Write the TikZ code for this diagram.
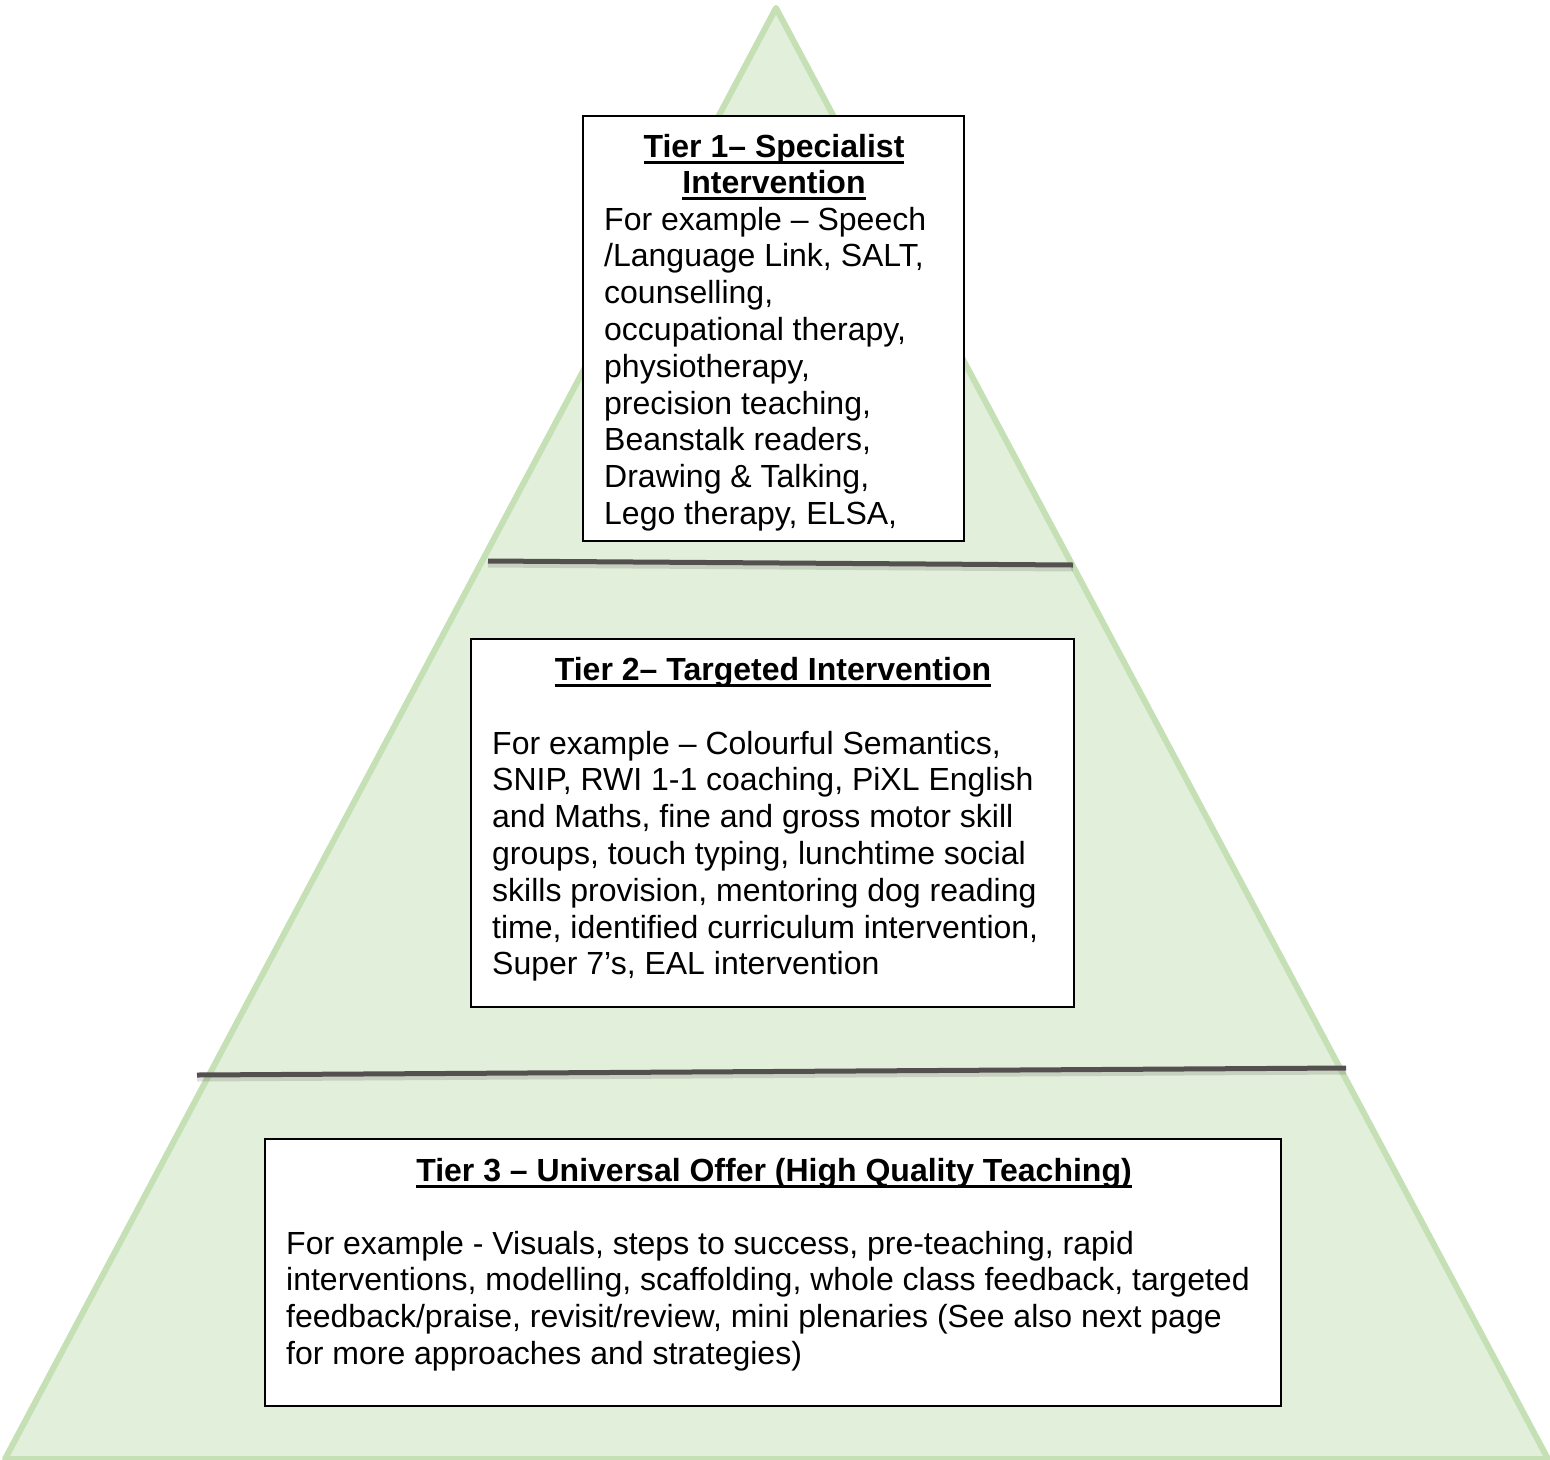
\documentclass[tikz,border=0pt]{standalone}
\usepackage{fontspec}
\setmainfont{Liberation Sans}
\definecolor{pyrfill}{HTML}{E2EFDA}
\definecolor{pyredge}{HTML}{C5E0B4}
\definecolor{divline}{HTML}{545050}
\newcommand\tul[1]{\setbox0\hbox{#1}\rlap{\rule[-6.8pt]{\wd0}{3pt}}\box0}
\tikzset{
  box/.style={draw=black, line width=1.2pt, fill=white, inner sep=0pt, outer sep=0pt},
  body/.style={anchor=base west, inner sep=0pt, font=\fontsize{32}{36.8}\selectfont},
  title/.style={anchor=base, inner sep=0pt, font=\fontsize{32}{36.8}\selectfont\bfseries},
  divider/.style={draw=divline, line width=5pt},
  dshadow/.style={draw=black, opacity=0.12, line width=7pt},
}
\begin{document}
\begin{tikzpicture}[x=1pt,y=-1pt]
\useasboundingbox (0,0) rectangle (1550,1459);
% pyramid
\coordinate (apex) at (776,8);
\coordinate (bl) at (5,1459);
\coordinate (br) at (1548,1459);
\draw[fill=pyrfill, draw=pyredge, line width=6pt, line join=round] (apex) -- (br) -- (bl) -- cycle;
% dividers
\coordinate (l1a) at (488,561);
\coordinate (l1b) at (1073,565);
\coordinate (l2a) at (197,1075);
\coordinate (l2b) at (1346,1068);
\draw[dshadow] ([yshift=-3pt]l1a) -- ([yshift=-3pt]l1b);
\draw[dshadow] ([yshift=-3pt]l2a) -- ([yshift=-3pt]l2b);
\draw[divider] (l1a) -- (l1b);
\draw[divider] (l2a) -- (l2b);
% boxes
\node[box, minimum width=381pt, minimum height=425pt] (b1) at (773.5,328.5) {};
\node[box, minimum width=603pt, minimum height=368pt] (b2) at (772.5,823) {};
\node[box, minimum width=1016pt, minimum height=267pt] (b3) at (773,1272.5) {};
% tier 1
\node[title] (t1a) at (774,157) {\tul{Tier 1– Specialist}};
\node[title] (t1b) at (774,193.5) {\tul{Intervention}};
\node[body] (x1) at (604,230) {\begin{tabular}[t]{@{}l@{}}
For example – Speech\\
/Language Link, SALT,\\
counselling,\\
occupational therapy,\\
physiotherapy,\\
precision teaching,\\
Beanstalk readers,\\
Drawing \& Talking,\\
Lego therapy, ELSA,
\end{tabular}};
% tier 2
\node[title] (t2) at (773,680) {\tul{Tier 2– Targeted Intervention}};
\node[body] (x2) at (492,754) {\begin{tabular}[t]{@{}l@{}}
For example – Colourful Semantics,\\
SNIP, RWI 1-1 coaching, PiXL English\\
and Maths, fine and gross motor skill\\
groups, touch typing, lunchtime social\\
skills provision, mentoring dog reading\\
time, identified curriculum intervention,\\
Super 7’s, EAL intervention
\end{tabular}};
% tier 3
\node[title] (t3) at (774,1181) {\tul{Tier 3 – Universal Offer (High Quality Teaching)}};
\node[body] (x3) at (286,1254) {\begin{tabular}[t]{@{}l@{}}
For example - Visuals, steps to success, pre-teaching, rapid\\
interventions, modelling, scaffolding, whole class feedback, targeted\\
feedback/praise, revisit/review, mini plenaries (See also next page\\
for more approaches and strategies)
\end{tabular}};
\end{tikzpicture}
\end{document}
